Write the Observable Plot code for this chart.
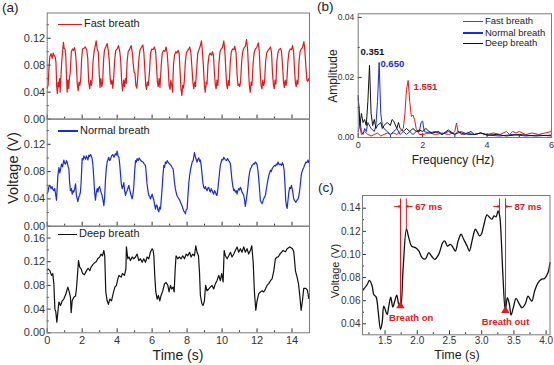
<!DOCTYPE html>
<html><head><meta charset="utf-8">
<script src="https://cdn.jsdelivr.net/npm/d3@7"></script>
<script src="https://cdn.jsdelivr.net/npm/@observablehq/plot@0.6"></script>
<style>
body{margin:0;background:#fff;}
#fig{position:relative;width:554px;height:365px;overflow:hidden;font-family:"Liberation Sans",Arial,Helvetica,sans-serif;color:#222;background:#fff;}
#fig svg{position:absolute;left:0;top:0;}
.lbl{position:absolute;white-space:nowrap;line-height:1;}
.rot{transform:translate(-50%,-50%) rotate(-90deg);}
.ctr{transform:translate(-50%,-50%);}
</style></head><body><div id="fig"></div>
<script>
// ---------------- DATA ----------------
const fastBreath = [[0.00,0.046],[0.05,0.050],[0.10,0.075],[0.15,0.093],[0.22,0.097],[0.28,0.090],[0.34,0.098],[0.40,0.094],[0.46,0.092],[0.50,0.085],[0.54,0.050],[0.58,0.038],[0.63,0.055],[0.67,0.048],[0.71,0.060],[0.74,0.040],[0.78,0.060],
[0.83,0.085],[0.88,0.100],[0.93,0.114],[0.97,0.105],[1.02,0.104],[1.06,0.095],[1.10,0.065],[1.14,0.040],[1.19,0.058],[1.23,0.045],[1.27,0.060],
[1.32,0.070],[1.38,0.100],[1.45,0.104],[1.50,0.102],[1.56,0.106],[1.62,0.098],[1.67,0.080],[1.72,0.052],[1.77,0.042],[1.82,0.055],[1.87,0.050],[1.92,0.060],
[1.97,0.090],[2.02,0.104],[2.10,0.105],[2.18,0.107],[2.26,0.103],[2.32,0.090],[2.37,0.055],[2.43,0.045],[2.48,0.057],[2.53,0.050],[2.58,0.062],
[2.62,0.085],[2.68,0.100],[2.75,0.109],[2.80,0.116],[2.86,0.104],[2.92,0.100],[2.97,0.070],[3.02,0.047],[3.07,0.060],[3.12,0.048],[3.17,0.055],
[3.23,0.090],[3.28,0.103],[3.35,0.107],[3.43,0.112],[3.50,0.100],[3.55,0.086],[3.60,0.060],[3.65,0.052],[3.70,0.058],[3.75,0.046],[3.80,0.060],
[3.86,0.088],[3.92,0.102],[4.00,0.104],[4.08,0.109],[4.15,0.100],[4.20,0.088],[4.26,0.055],[4.31,0.042],[4.37,0.058],[4.42,0.048],[4.47,0.060],[4.52,0.053],
[4.57,0.085],[4.63,0.100],[4.70,0.103],[4.80,0.109],[4.87,0.098],[4.92,0.082],[4.97,0.070],[5.02,0.068],[5.07,0.050],[5.12,0.046],[5.17,0.058],
[5.23,0.085],[5.30,0.102],[5.38,0.106],[5.47,0.110],[5.53,0.098],[5.58,0.075],[5.63,0.052],[5.68,0.044],[5.73,0.055],[5.78,0.050],
[5.85,0.070],[5.91,0.098],[5.98,0.104],[6.05,0.103],[6.13,0.107],[6.20,0.100],[6.25,0.080],[6.30,0.055],[6.35,0.048],[6.40,0.060],[6.45,0.047],
[6.52,0.080],[6.58,0.098],[6.66,0.102],[6.73,0.100],[6.80,0.107],[6.86,0.098],[6.92,0.076],[6.97,0.050],[7.02,0.044],[7.07,0.058],[7.12,0.050],[7.17,0.040],
[7.22,0.080],[7.28,0.095],[7.36,0.100],[7.42,0.098],[7.49,0.102],[7.55,0.097],[7.60,0.070],[7.65,0.045],[7.70,0.035],[7.75,0.050],[7.80,0.046],[7.85,0.060],
[7.90,0.085],[7.96,0.098],[8.03,0.102],[8.10,0.104],[8.15,0.107],[8.22,0.098],[8.28,0.075],[8.33,0.055],[8.38,0.045],[8.43,0.055],[8.48,0.048],
[8.55,0.075],[8.61,0.098],[8.68,0.103],[8.75,0.108],[8.82,0.116],[8.88,0.100],[8.94,0.075],[8.99,0.050],[9.04,0.040],[9.09,0.055],[9.14,0.052],
[9.19,0.080],[9.25,0.094],[9.32,0.098],[9.40,0.095],[9.45,0.100],[9.51,0.094],[9.56,0.070],[9.61,0.052],[9.66,0.045],[9.71,0.058],[9.76,0.050],
[9.82,0.082],[9.88,0.100],[9.95,0.104],[10.02,0.106],[10.10,0.116],[10.16,0.100],[10.21,0.075],[10.26,0.052],[10.31,0.045],[10.36,0.057],[10.41,0.050],
[10.47,0.085],[10.53,0.100],[10.60,0.104],[10.67,0.103],[10.73,0.108],[10.80,0.098],[10.86,0.066],[10.91,0.050],[10.96,0.052],[11.01,0.048],[11.06,0.056],
[11.12,0.085],[11.18,0.100],[11.26,0.106],[11.33,0.108],[11.40,0.118],[11.46,0.104],[11.51,0.075],[11.56,0.050],[11.61,0.040],[11.66,0.055],[11.71,0.050],
[11.77,0.080],[11.83,0.098],[11.90,0.104],[11.98,0.106],[12.07,0.113],[12.13,0.100],[12.18,0.070],[12.23,0.050],[12.28,0.045],[12.33,0.058],[12.38,0.050],[12.43,0.055],
[12.49,0.085],[12.55,0.098],[12.63,0.102],[12.70,0.104],[12.77,0.107],[12.83,0.098],[12.88,0.070],[12.93,0.052],[12.98,0.045],[13.03,0.058],[13.08,0.052],
[13.13,0.085],[13.19,0.098],[13.26,0.103],[13.34,0.105],[13.40,0.100],[13.46,0.080],[13.51,0.056],[13.56,0.047],[13.61,0.058],[13.66,0.050],[13.71,0.060],
[13.77,0.087],[13.83,0.100],[13.90,0.104],[13.97,0.103],[14.03,0.109],[14.09,0.100],[14.14,0.075],[14.19,0.055],[14.24,0.048],[14.29,0.058],[14.34,0.052],
[14.40,0.085],[14.46,0.100],[14.53,0.104],[14.60,0.106],[14.68,0.115],[14.74,0.100],[14.80,0.075],[14.85,0.058],[14.90,0.056],[14.95,0.060],[15.00,0.057]];

const normalBreath = [[0.00,0.048],[0.04,0.050],[0.10,0.058],[0.15,0.060],[0.22,0.055],[0.28,0.058],[0.33,0.054],[0.38,0.052],[0.43,0.055],[0.47,0.049],[0.53,0.038],[0.58,0.060],[0.61,0.074],[0.64,0.080],[0.67,0.086],[0.72,0.078],[0.76,0.083],[0.82,0.091],[0.88,0.087],[0.95,0.097],[1.00,0.092],[1.05,0.091],[1.10,0.096],[1.14,0.094],[1.19,0.088],[1.24,0.084],[1.28,0.065],[1.33,0.052],[1.38,0.055],[1.43,0.047],[1.48,0.052],[1.52,0.050],[1.57,0.055],[1.62,0.062],[1.67,0.045],[1.72,0.040],[1.75,0.036],[1.80,0.042],[1.85,0.045],[1.90,0.050],[1.94,0.064],[2.00,0.099],[2.05,0.097],[2.10,0.103],[2.15,0.100],[2.19,0.098],[2.24,0.103],[2.29,0.100],[2.33,0.097],[2.38,0.104],[2.43,0.102],[2.48,0.105],[2.52,0.103],[2.57,0.099],[2.62,0.088],[2.66,0.072],[2.71,0.050],[2.76,0.038],[2.81,0.050],[2.86,0.055],[2.90,0.050],[2.95,0.056],[3.00,0.058],[3.05,0.052],[3.10,0.048],[3.14,0.045],[3.19,0.038],[3.24,0.030],[3.29,0.045],[3.33,0.067],[3.38,0.085],[3.43,0.094],[3.48,0.098],[3.52,0.101],[3.57,0.096],[3.62,0.098],[3.68,0.103],[3.75,0.105],[3.82,0.101],[3.90,0.106],[3.95,0.104],[4.00,0.110],[4.05,0.103],[4.10,0.101],[4.15,0.090],[4.19,0.077],[4.24,0.062],[4.29,0.055],[4.33,0.058],[4.38,0.064],[4.43,0.052],[4.48,0.045],[4.52,0.050],[4.57,0.052],[4.62,0.056],[4.67,0.060],[4.71,0.054],[4.76,0.049],[4.81,0.044],[4.86,0.040],[4.90,0.046],[4.95,0.057],[5.00,0.080],[5.05,0.096],[5.10,0.094],[5.14,0.099],[5.20,0.096],[5.26,0.100],[5.33,0.097],[5.40,0.095],[5.48,0.094],[5.55,0.091],[5.62,0.089],[5.66,0.078],[5.71,0.062],[5.76,0.052],[5.81,0.045],[5.86,0.044],[5.90,0.040],[5.95,0.043],[6.00,0.047],[6.05,0.042],[6.10,0.038],[6.14,0.032],[6.19,0.025],[6.24,0.031],[6.29,0.030],[6.33,0.024],[6.38,0.021],[6.43,0.028],[6.48,0.025],[6.52,0.038],[6.57,0.055],[6.62,0.075],[6.67,0.089],[6.71,0.086],[6.76,0.094],[6.81,0.092],[6.86,0.096],[6.93,0.093],[7.01,0.091],[7.08,0.089],[7.14,0.086],[7.20,0.084],[7.24,0.075],[7.28,0.064],[7.33,0.055],[7.37,0.050],[7.42,0.045],[7.48,0.042],[7.53,0.040],[7.58,0.038],[7.64,0.034],[7.71,0.030],[7.76,0.026],[7.81,0.022],[7.86,0.021],[7.90,0.018],[7.95,0.024],[8.00,0.025],[8.05,0.045],[8.10,0.064],[8.15,0.075],[8.19,0.082],[8.24,0.088],[8.29,0.094],[8.35,0.096],[8.42,0.108],[8.48,0.101],[8.52,0.098],[8.57,0.094],[8.62,0.098],[8.67,0.100],[8.72,0.095],[8.76,0.097],[8.81,0.088],[8.86,0.075],[8.90,0.064],[8.95,0.057],[9.00,0.055],[9.05,0.058],[9.10,0.054],[9.14,0.052],[9.19,0.056],[9.24,0.057],[9.29,0.052],[9.33,0.050],[9.38,0.055],[9.43,0.052],[9.48,0.049],[9.52,0.047],[9.57,0.052],[9.62,0.050],[9.67,0.046],[9.71,0.045],[9.76,0.055],[9.81,0.067],[9.86,0.080],[9.90,0.089],[9.95,0.094],[10.00,0.098],[10.05,0.097],[10.10,0.101],[10.17,0.098],[10.25,0.096],[10.31,0.099],[10.38,0.096],[10.43,0.094],[10.48,0.091],[10.52,0.080],[10.57,0.067],[10.62,0.058],[10.67,0.052],[10.71,0.054],[10.76,0.050],[10.81,0.052],[10.86,0.047],[10.90,0.052],[10.95,0.055],[11.00,0.053],[11.05,0.057],[11.10,0.054],[11.14,0.050],[11.19,0.048],[11.24,0.045],[11.29,0.038],[11.33,0.029],[11.38,0.038],[11.43,0.047],[11.48,0.058],[11.52,0.069],[11.57,0.078],[11.62,0.084],[11.67,0.086],[11.71,0.089],[11.76,0.090],[11.81,0.092],[11.86,0.091],[11.90,0.094],[11.95,0.093],[12.00,0.090],[12.05,0.082],[12.10,0.069],[12.15,0.052],[12.19,0.038],[12.24,0.035],[12.29,0.033],[12.33,0.036],[12.38,0.040],[12.43,0.043],[12.48,0.045],[12.52,0.052],[12.57,0.060],[12.62,0.068],[12.67,0.074],[12.72,0.078],[12.77,0.082],[12.81,0.080],[12.86,0.084],[12.93,0.087],[13.00,0.089],[13.05,0.088],[13.11,0.091],[13.15,0.090],[13.20,0.094],[13.27,0.090],[13.34,0.091],[13.40,0.089],[13.45,0.093],[13.50,0.090],[13.55,0.082],[13.60,0.060],[13.64,0.038],[13.68,0.030],[13.72,0.026],[13.77,0.038],[13.82,0.050],[13.87,0.057],[13.92,0.055],[13.97,0.060],[14.03,0.052],[14.10,0.040],[14.16,0.037],[14.22,0.035],[14.28,0.038],[14.35,0.040],[14.40,0.046],[14.45,0.055],[14.50,0.068],[14.54,0.077],[14.60,0.082],[14.67,0.086],[14.73,0.090],[14.79,0.094],[14.85,0.093],[14.92,0.097],[14.96,0.093],[15.00,0.094]];

const deepBreath = [[0.00,0.106],[0.04,0.108],[0.15,0.105],[0.25,0.097],[0.32,0.100],[0.38,0.083],[0.44,0.040],[0.49,0.036],[0.55,0.018],[0.61,0.035],[0.67,0.052],[0.76,0.046],[0.86,0.054],[0.95,0.057],[1.07,0.066],[1.18,0.077],[1.26,0.069],[1.33,0.060],[1.37,0.034],[1.43,0.054],[1.52,0.060],[1.62,0.062],[1.67,0.074],[1.73,0.097],[1.79,0.122],[1.86,0.111],[1.94,0.108],[2.03,0.100],[2.13,0.098],[2.25,0.105],[2.34,0.109],[2.44,0.105],[2.51,0.111],[2.61,0.115],[2.70,0.118],[2.80,0.120],[2.89,0.125],[3.00,0.128],[3.08,0.133],[3.16,0.130],[3.24,0.139],[3.29,0.130],[3.35,0.069],[3.43,0.054],[3.50,0.048],[3.58,0.057],[3.68,0.054],[3.77,0.066],[3.87,0.077],[3.96,0.080],[4.04,0.091],[4.11,0.097],[4.23,0.094],[4.30,0.100],[4.42,0.097],[4.50,0.108],[4.53,0.145],[4.61,0.125],[4.68,0.128],[4.76,0.122],[4.86,0.128],[4.95,0.125],[5.05,0.128],[5.14,0.133],[5.24,0.122],[5.33,0.125],[5.43,0.119],[5.52,0.125],[5.62,0.119],[5.71,0.128],[5.81,0.125],[5.90,0.136],[6.00,0.142],[6.06,0.139],[6.10,0.130],[6.15,0.097],[6.21,0.069],[6.29,0.057],[6.36,0.063],[6.44,0.054],[6.51,0.063],[6.61,0.071],[6.71,0.083],[6.80,0.085],[6.90,0.080],[6.97,0.069],[7.05,0.080],[7.12,0.074],[7.20,0.077],[7.26,0.069],[7.32,0.108],[7.37,0.130],[7.47,0.125],[7.56,0.128],[7.66,0.125],[7.75,0.130],[7.85,0.125],[7.95,0.133],[8.04,0.130],[8.14,0.136],[8.23,0.128],[8.33,0.133],[8.42,0.130],[8.50,0.147],[8.57,0.136],[8.65,0.130],[8.71,0.102],[8.76,0.063],[8.84,0.050],[8.91,0.046],[8.99,0.054],[9.06,0.080],[9.14,0.071],[9.24,0.074],[9.33,0.077],[9.43,0.080],[9.52,0.074],[9.62,0.083],[9.71,0.088],[9.81,0.097],[9.90,0.088],[9.98,0.100],[10.06,0.086],[10.12,0.139],[10.19,0.130],[10.29,0.125],[10.38,0.130],[10.48,0.136],[10.57,0.128],[10.67,0.133],[10.76,0.139],[10.86,0.145],[10.95,0.136],[11.05,0.142],[11.14,0.136],[11.24,0.145],[11.33,0.136],[11.43,0.142],[11.52,0.133],[11.62,0.139],[11.70,0.147],[11.78,0.119],[11.85,0.069],[11.93,0.038],[12.00,0.054],[12.10,0.066],[12.19,0.069],[12.29,0.071],[12.38,0.069],[12.48,0.074],[12.57,0.080],[12.67,0.083],[12.77,0.088],[12.86,0.091],[12.96,0.105],[13.05,0.125],[13.15,0.128],[13.21,0.128],[13.34,0.134],[13.49,0.139],[13.63,0.137],[13.72,0.142],[13.87,0.145],[14.03,0.142],[14.10,0.137],[14.20,0.104],[14.29,0.094],[14.37,0.083],[14.44,0.064],[14.52,0.038],[14.60,0.055],[14.67,0.075],[14.79,0.075],[14.88,0.072],[14.96,0.058],[15.00,0.060]];

const fftFast = [[0,0.002],[0.05,0.004],[0.1,0.001],[0.2,0.002],[0.3,0.001],[0.4,0.0005],[0.5,0.001],[0.6,0.0015],[0.7,0.0005],[0.8,0.001],[0.9,0.0015],[1.0,0.001],[1.1,0.0015],[1.2,0.001],[1.3,0.002],[1.4,0.003],[1.45,0.008],[1.5,0.016],[1.551,0.019],[1.6,0.012],[1.65,0.007],[1.7,0.0075],[1.75,0.006],[1.8,0.003],[1.85,0.002],[1.9,0.001],[2.0,0.001],[2.2,0.0015],[2.4,0.001],[2.6,0.0015],[2.8,0.001],[2.95,0.0015],[3.0,0.002],[3.05,0.0048],[3.1,0.002],[3.2,0.001],[3.4,0.0015],[3.6,0.001],[3.8,0.0015],[4.0,0.001],[4.2,0.0015],[4.4,0.001],[4.6,0.002],[4.7,0.001],[4.8,0.002],[4.9,0.0015],[5.0,0.002],[5.2,0.001],[5.4,0.0015],[5.6,0.001],[5.8,0.0015],[6.0,0.002]];
const fftNormal = [[0,0.013],[0.05,0.006],[0.1,0.002],[0.15,0.001],[0.2,0.003],[0.25,0.002],[0.3,0.005],[0.4,0.003],[0.5,0.002],[0.55,0.004],[0.6,0.012],[0.65,0.025],[0.7,0.008],[0.75,0.004],[0.8,0.003],[0.9,0.002],[1.0,0.001],[1.1,0.002],[1.2,0.003],[1.3,0.001],[1.4,0.002],[1.5,0.001],[1.6,0.002],[1.7,0.001],[1.8,0.002],[1.9,0.002],[1.95,0.005],[2.0,0.0055],[2.05,0.002],[2.2,0.0015],[2.4,0.002],[2.6,0.001],[2.8,0.002],[3.0,0.001],[3.2,0.002],[3.4,0.001],[3.6,0.001],[3.8,0.0015],[4.0,0.0008],[4.4,0.0005],[4.8,0.001],[5.2,0.0005],[5.6,0.0008],[6.0,0.0005]];
const fftDeep = [[0,0.014],[0.05,0.004],[0.1,0.008],[0.15,0.005],[0.2,0.006],[0.25,0.004],[0.3,0.012],[0.351,0.024],[0.4,0.008],[0.45,0.004],[0.5,0.006],[0.55,0.003],[0.6,0.004],[0.7,0.005],[0.75,0.003],[0.8,0.004],[0.9,0.005],[1.0,0.004],[1.05,0.006],[1.1,0.0055],[1.2,0.003],[1.25,0.005],[1.3,0.003],[1.4,0.002],[1.5,0.003],[1.6,0.002],[1.7,0.003],[1.8,0.002],[1.9,0.0025],[2.0,0.002],[2.1,0.003],[2.2,0.002],[2.3,0.0015],[2.5,0.002],[2.6,0.001],[2.8,0.0025],[3.0,0.001],[3.1,0.002],[3.3,0.001],[3.5,0.002],[3.6,0.001],[3.8,0.0015],[4.0,0.0008],[4.3,0.001],[4.6,0.0005],[5.0,0.001],[5.5,0.0005],[6.0,0.0008]];

const zoomDeep = [[1.155,0.069],[1.223,0.074],[1.258,0.0776],[1.30,0.0727],[1.325,0.0654],[1.362,0.0631],[1.393,0.051],[1.429,0.0351],[1.455,0.041],[1.48,0.0553],[1.507,0.0516],[1.533,0.048],[1.558,0.0553],[1.589,0.0631],[1.62,0.0545],[1.651,0.0597],[1.682,0.0649],[1.713,0.0568],[1.739,0.0553],[1.781,0.0886],[1.832,0.1218],[1.868,0.1146],[1.91,0.1073],[1.972,0.1059],[2.023,0.103],[2.075,0.0972],[2.127,0.0961],[2.178,0.1016],[2.22,0.0987],[2.27,0.0958],[2.333,0.1001],[2.395,0.1102],[2.426,0.1117],[2.468,0.1073],[2.514,0.1088],[2.556,0.1059],[2.592,0.103],[2.634,0.1117],[2.68,0.1175],[2.72,0.1131],[2.773,0.1073],[2.809,0.103],[2.85,0.1117],[2.902,0.1218],[2.937,0.1189],[2.964,0.116],[2.995,0.1175],[3.03,0.1247],[3.083,0.1342],[3.124,0.1319],[3.16,0.1305],[3.192,0.1334],[3.223,0.1325],[3.254,0.1377],[3.279,0.1334],[3.305,0.1117],[3.331,0.0799],[3.367,0.051],[3.398,0.0626],[3.43,0.0568],[3.456,0.0475],[3.496,0.0553],[3.533,0.062],[3.574,0.0582],[3.626,0.0539],[3.677,0.0573],[3.719,0.064],[3.755,0.0611],[3.78,0.0597],[3.821,0.0683],[3.874,0.0755],[3.925,0.0784],[3.976,0.0793],[4.028,0.0842],[4.06,0.0929]];

const seriesNames = ["Fast breath", "Normal breath", "Deep breath"];
// peak label text, anchor frequency (label start), amplitude (label centre)
const peakLabels = [["0.351", 0.07, 0.0284], ["0.650", 0.69, 0.0246], ["1.551", 1.72, 0.0170]];
const onsetLines = [[1.74, 0.0553, 0.148], [1.83, 0.1215, 0.148], [3.277, 0.1334, 0.148], [3.37, 0.051, 0.148]];
const onsetMarks = [["Breath on", 1.739, 0.0555], ["Breath out", 3.367, 0.0515]];
const onsetTextPos = [[1.906, 0.0455], [3.37, 0.0418]];
const delayLabels = ["67 ms", "87 ms"];

const ticksA_x = [0,2,4,6,8,10,12,14], minorA_x = [1,3,5,7,9,11,13];
const ticksA_y = [0,0.04,0.08,0.12], minorA_y = [0.02,0.06,0.10,0.14];
const ticksA3_y = [0,0.04,0.08,0.12,0.16], minorA3_y = [0.02,0.06,0.10,0.14];
const ticksB_x = [0,2,4,6], minorB_x = [1,3,5];
const ticksB_y = [0,0.02,0.04], minorB_y = [0.01,0.03];
const ticksC_x = [1.5,2.0,2.5,3.0,3.5,4.0], minorC_x = [1.25,1.75,2.25,2.75,3.25,3.75];
const ticksC_y = [0.04,0.06,0.08,0.10,0.12,0.14], minorC_y = [0.05,0.07,0.09,0.11,0.13];

// ---------------- DRAW ----------------
const W = 554, H = 365;
const FONT = '"Liberation Sans", Arial, Helvetica, sans-serif';
const RED = "#e0191c", BLUE = "#1a2bd8", BLACK = "#111111", ANN = "#e3191c";
const fig = document.getElementById("fig");
const pts = arr => arr.map(([x, y]) => ({x, y}));
const f2 = d3.format(".2f"), f1 = d3.format(".1f"), f0 = d3.format("d");
const blank = () => "";

function panel(box, xDomain, yDomain, marks) {
  const svg = Plot.plot({
    width: W, height: H,
    marginLeft: box[0], marginRight: W - box[1], marginTop: box[2], marginBottom: H - box[3],
    x: {domain: xDomain, axis: null},
    y: {domain: yDomain, axis: null},
    style: {background: "transparent", fontFamily: FONT, color: "#333", overflow: "visible"},
    marks
  });
  fig.appendChild(svg);
}
function axY(major, minor, fmt, fs, gap) {
  return [
    Plot.axisY(major, {anchor: "left", tickSize: -4, tickPadding: 4 + gap, tickFormat: fmt, fontSize: fs, label: null}),
    Plot.axisY(minor, {anchor: "left", tickSize: -2, tickFormat: blank, label: null})
  ];
}
function axX(major, minor, fmt, fs, gap) {
  return [
    Plot.axisX(major, {anchor: "bottom", tickSize: -4, tickPadding: 4 + gap, tickFormat: fmt, fontSize: fs, label: null}),
    Plot.axisX(minor, {anchor: "bottom", tickSize: -2, tickFormat: blank, label: null})
  ];
}
const frame = Plot.frame({stroke: "#7a7a7a", strokeWidth: 1});
const line = (data, color, extra = {}) => Plot.line(pts(data), {x: "x", y: "y", stroke: color, strokeWidth: 1.2, ...extra});

// Panel (a)
const ax = [46.7, 309];
panel([ax[0], ax[1], 12.5, 118.6], [0, 15], [0, 0.1574], [
  ...axY(ticksA_y, minorA_y, f2, 11, 2), ...axX(ticksA_x, minorA_x, blank, 11, 0),
  line(fastBreath, RED), frame
]);
panel([ax[0], ax[1], 118.6, 225.7], [0, 15], [0, 0.1569], [
  ...axY(ticksA_y, minorA_y, f2, 11, 2), ...axX(ticksA_x, minorA_x, blank, 11, 0),
  line(normalBreath, BLUE), frame
]);
panel([ax[0], ax[1], 225.7, 332.3], [0, 15], [0, 0.18], [
  ...axY(ticksA3_y, minorA3_y, f2, 11, 2), ...axX(ticksA_x, minorA_x, f0, 11, 3),
  line(deepBreath, BLACK), frame
]);

// Panel (b)
panel([357.7, 551, 13.3, 137], [0, 6], [0, 0.0412], [
  ...axY(ticksB_y, minorB_y, f2, 8.5, 4), ...axX(ticksB_x, minorB_x, f0, 9, 4),
  line(fftFast, RED, {strokeWidth: 1}), line(fftNormal, BLUE, {strokeWidth: 1}), line(fftDeep, BLACK, {strokeWidth: 1}),
  Plot.text(peakLabels, {x: d => d[1], y: d => d[2], text: d => d[0], fill: [BLACK, BLUE, RED], fontWeight: "bold", fontSize: 9.5,
    textAnchor: "start"}),
  frame
]);

// Panel (c)
panel([362, 549.5, 195, 334.3], [1.15, 4.06], [0.0305, 0.151], [
  ...axY(ticksC_y, minorC_y, f2, 10, 2), ...axX(ticksC_x, minorC_x, f1, 10, 2),
  Plot.ruleX(onsetLines, {x: d => d[0], y1: d => d[1], y2: d => d[2], stroke: ANN, strokeWidth: 1}),
  line(zoomDeep, BLACK, {curve: "catmull-rom", strokeWidth: 1.3}),
  Plot.arrow([0, 1, 2, 3], {
    x1: i => onsetLines[i][0] + (i % 2 === 0 ? -0.09 : 0.09), x2: i => onsetLines[i][0],
    y1: 0.1415, y2: 0.1415, stroke: ANN, strokeWidth: 1, headLength: 3.5
  }),
  Plot.text([0, 1], {x: i => onsetLines[2 * i + 1][0] + 0.14, y: 0.1415, text: i => delayLabels[i], fill: ANN,
    fontWeight: "bold", fontSize: 9.5, textAnchor: "start"}),
  Plot.dot(onsetMarks, {x: d => d[1], y: d => d[2], symbol: "triangle", r: 3.1, fill: ANN, stroke: "none"}),
  Plot.text([0, 1], {x: i => onsetTextPos[i][0], y: i => onsetTextPos[i][1], text: i => onsetMarks[i][0], fill: ANN,
    fontWeight: "bold", fontSize: 9.5}),
  frame
]);

// ---------------- TEXT / LEGENDS ----------------
function label(txt, x, y, fs, cls, extra = "") {
  const d = document.createElement("div");
  d.className = "lbl " + cls;
  d.style.cssText = `left:${x}px;top:${y}px;font-size:${fs}px;${extra}`;
  d.textContent = txt;
  fig.appendChild(d);
}
function legend(txt, x, y, len, color, fs) {
  const l = document.createElement("div");
  l.style.cssText = `position:absolute;left:${x}px;top:${y - 0.8}px;width:${len}px;height:1.6px;background:${color};`;
  fig.appendChild(l);
  label(txt, x + len + 2, y - fs * 0.55, fs, "", "color:#222;");
}
label("(a)", 2, 1, 13.5, "");
label("(b)", 317, 0, 13.5, "");
label("(c)", 318, 181, 13.5, "");
label("Voltage (V)", 13, 168, 14.5, "rot");
label("Time (s)", 178, 355, 14, "ctr");
label("Amplitude", 333, 76, 12, "rot");
label("Frequency (Hz)", 453, 160, 12, "ctr");
label("Voltage (V)", 335, 271, 11, "rot");
label("Time (s)", 457, 355, 12.5, "ctr");

legend(seriesNames[0], 58, 24.5, 24, RED, 11);
legend(seriesNames[1], 58, 131, 20, BLUE, 11);
legend(seriesNames[2], 58, 234.5, 19, BLACK, 11);
legend(seriesNames[0], 463, 21.7, 20, RED, 9.5);
legend(seriesNames[1], 463, 33, 20, BLUE, 9.5);
legend(seriesNames[2], 463, 43.7, 20, BLACK, 9.5);
</script></body></html>
